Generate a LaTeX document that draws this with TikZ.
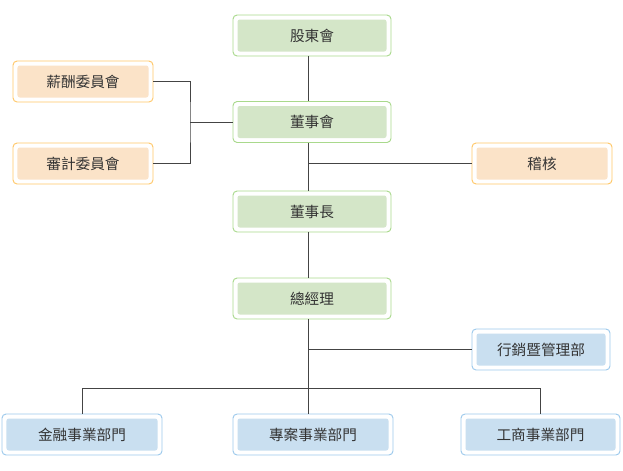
\documentclass[tikz,border=0pt]{standalone}
\usepackage{fontspec}
\setmainfont{Noto Sans CJK TC}
\usepackage{tikz}
\usetikzlibrary{calc}

\definecolor{grnline}{HTML}{A9D98C}
\definecolor{grnfill}{HTML}{D4E6C8}
\definecolor{orgline}{HTML}{FFC766}
\definecolor{orgfill}{HTML}{FBE3C8}
\definecolor{bluline}{HTML}{9CC9EC}
\definecolor{blufill}{HTML}{C9DFF0}
\definecolor{linkgray}{HTML}{444444}
\definecolor{txtgray}{HTML}{333333}

\tikzset{
    unit/.style 2 args={draw=#1, fill=white, line width=0.8pt, rounded corners=3.5pt,
        minimum height=1.23cm, inner sep=0pt, text=txtgray,
        font=\fontsize{12.5}{15}\selectfont,
        path picture={\fill[#2, rounded corners=2pt]
            ([shift={(0.135cm,0.135cm)}]path picture bounding box.south west) rectangle
            ([shift={(-0.135cm,-0.135cm)}]path picture bounding box.north east);}},
    link/.style={draw=linkgray, line width=0.8pt}
}

\begin{document}
\begin{tikzpicture}[x=0.03cm, y=-0.03cm]
    \useasboundingbox (0, 0) rectangle (623, 470);
    \node[unit={grnline}{grnfill}, minimum width=4.74cm] (gd) at (312, 35.5) {股東會};
    \node[unit={grnline}{grnfill}, minimum width=4.74cm] (bod) at (312, 122) {董事會};
    \node[unit={grnline}{grnfill}, minimum width=4.74cm] (chair) at (312, 211.5) {董事長};
    \node[unit={grnline}{grnfill}, minimum width=4.74cm] (gm) at (312, 298.5) {總經理};
    \node[unit={orgline}{orgfill}, minimum width=4.2cm] (pay) at (83, 81.5) {薪酬委員會};
    \node[unit={orgline}{orgfill}, minimum width=4.2cm] (audc) at (83, 163.5) {審計委員會};
    \node[unit={orgline}{orgfill}, minimum width=4.2cm] (aud) at (542, 163.5) {稽核};
    \node[unit={bluline}{blufill}, minimum width=4.14cm] (mkt) at (541, 349.5) {行銷暨管理部};
    \node[unit={bluline}{blufill}, minimum width=4.8cm] (fin) at (82, 434.5) {金融事業部門};
    \node[unit={bluline}{blufill}, minimum width=4.8cm] (proj) at (313, 434.5) {專案事業部門};
    \node[unit={bluline}{blufill}, minimum width=4.77cm] (ind) at (540.5, 434.5) {工商事業部門};

    \coordinate (trunk) at (308.5, 0);
    \coordinate (comm) at (190, 122);
    \coordinate (bus) at (308.5, 388.5);

    \draw[link] (gd.south -| trunk) -- (bod.north -| trunk);
    \draw[link] (bod.south -| trunk) -- (chair.north -| trunk);
    \draw[link] (chair.south -| trunk) -- (gm.north -| trunk);
    \draw[link] (gm.south -| trunk) -- (proj.north -| trunk);
    \draw[link] (aud.west) -- (aud.west -| trunk);
    \draw[link] (mkt.west) -- (mkt.west -| trunk);
    \draw[link] (fin.north) |- (bus) -| (ind.north);
    \draw[link] (pay.east) -| (comm) |- (audc.east);
    \draw[link] (comm) -- (bod.west);
\end{tikzpicture}
\end{document}
